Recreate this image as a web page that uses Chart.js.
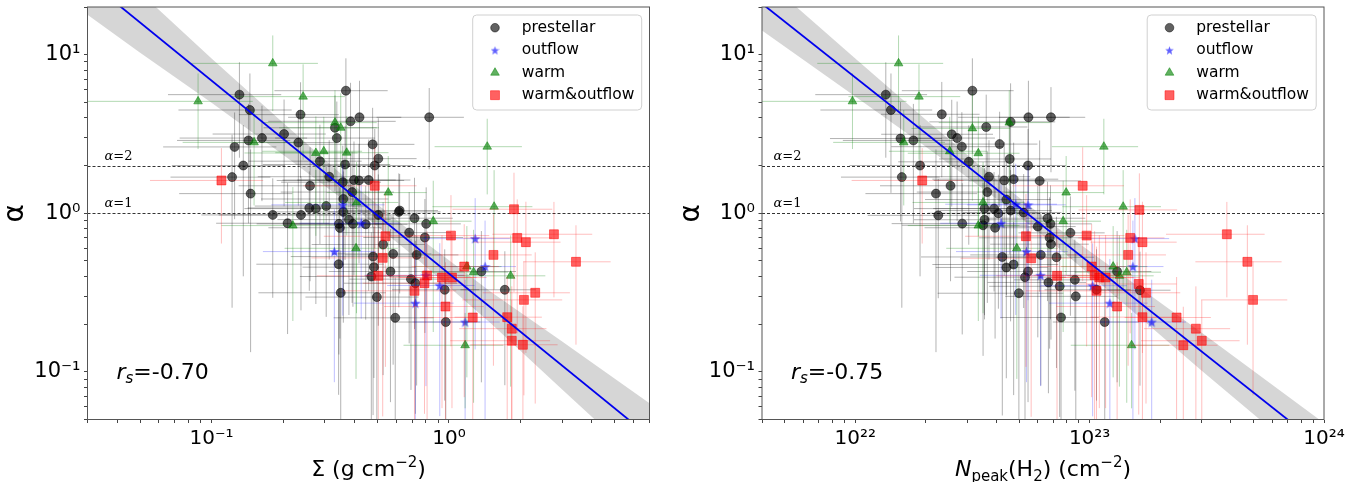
<!DOCTYPE html>
<html>
<head>
<meta charset="utf-8">
<script src="https://cdn.jsdelivr.net/npm/chart.js@4.4.1/dist/chart.umd.min.js"></script>
<style>
  html, body { margin: 0; padding: 0; background: #fff; }
  #wrap { position: relative; width: 1359px; height: 482px; }
  canvas { position: absolute; top: 0; }
</style>
</head>
<body>
<div id="wrap">
  <canvas id="left" width="680" height="482" style="left:0px"></canvas>
  <canvas id="right" width="679" height="482" style="left:680px"></canvas>
</div>
<script>
// ---- data ----
const categories = ['prestellar', 'outflow', 'warm', 'warm&outflow'];
const yRange = [0.05, 20];
const yMajor = [0.1, 1, 10];
const yLabels = ['10⁻¹', '10⁰', '10¹'];
const refLevels = [2, 1];

// left panel: [Sigma (g cm^-2), alpha, rel. x error, rel. y error]
const prestellarL = [
  [0.131,5.6,0.5,0.6],[0.145,4.48,0.5,0.7],[0.368,5.93,0.5,0.6],[0.237,4.19,0.45,0.6],
  [0.42,4.03,0.5,0.7],[0.385,3.8,0.55,0.75],[0.826,4.03,0.4,0.53],[0.331,3.46,0.5,0.6],
  [0.337,2.98,0.45,0.7],[0.202,3.16,0.5,0.65],[0.163,2.98,0.55,0.6],[0.143,2.88,0.5,0.7],
  [0.125,2.62,0.5,0.65],[0.232,2.79,0.45,0.6],[0.477,2.72,0.5,0.7],[0.504,2.21,0.45,0.8],
  [0.286,2.13,0.5,0.7],[0.365,2.03,0.55,0.75],[0.487,2.0,0.45,0.7],[0.136,2.0,0.5,0.8],
  [0.313,1.70,0.5,0.7],[0.122,1.69,0.45,0.85],[0.398,1.62,0.5,0.75],[0.418,1.61,0.55,0.7],
  [0.459,1.62,0.5,0.8],[0.357,1.57,0.45,0.7],[0.26,1.49,0.5,0.75],[0.391,1.36,0.5,0.8],
  [0.146,1.33,0.5,0.9],[0.359,1.23,0.55,0.75],[0.304,1.11,0.5,0.8],[0.258,1.08,0.45,0.7],
  [0.275,1.07,0.5,0.75],[0.359,1.02,0.5,0.8],[0.181,0.976,0.5,0.7],[0.238,0.976,0.55,0.75],
  [0.504,0.976,0.45,0.8],[0.615,1.02,0.5,0.75],[0.62,1.04,0.45,0.7],[0.209,0.865,0.5,0.8],
  [0.379,0.912,0.5,0.75],[0.344,0.857,0.55,0.85],[0.347,0.81,0.5,0.8],[0.394,0.857,0.45,0.7],
  [0.446,0.852,0.5,0.75],[0.716,0.93,0.45,0.8],[0.802,0.857,0.4,0.7],[0.68,0.755,0.5,0.8],
  [0.792,0.703,0.45,0.75],[0.528,0.635,0.5,0.85],[0.582,0.554,0.45,0.8],[0.731,0.546,0.5,0.85],
  [0.479,0.533,0.55,0.9],[0.483,0.457,0.5,0.8],[0.567,0.429,0.45,0.85],[0.471,0.399,0.5,0.9],
  [0.343,0.477,0.55,0.85],[0.692,0.384,0.45,0.8],[0.722,0.362,0.5,0.85],[0.96,0.329,0.4,0.8],
  [1.72,0.329,0.35,0.75],[1.37,0.429,0.4,0.8],[0.497,0.296,0.5,0.9],[0.35,0.315,0.55,0.85],
  [0.594,0.219,0.45,0.8],[0.97,0.206,0.4,0.85]
];
const outflowL = [
  [0.357,1.13,0.5,0.8],[0.427,0.865,0.45,0.75],[0.329,0.573,0.5,0.85],[1.29,0.692,0.4,0.8],
  [1.42,0.461,0.35,0.95],[0.80,0.406,0.45,0.8],[0.915,0.35,0.4,0.85],[0.722,0.271,0.45,0.9],
  [1.17,0.206,0.4,0.85]
];
const warmL = [
  [0.181,8.82,0.55,0.5],[0.0877,5.08,0.7,0.5],[0.243,5.44,0.5,0.6],[0.331,3.73,0.5,0.6],
  [0.35,3.46,0.45,0.65],[0.151,2.8,0.5,0.6],[0.275,2.4,0.5,0.7],[0.297,2.46,0.45,0.65],
  [0.371,2.41,0.5,0.7],[1.45,2.63,0.4,0.5],[0.555,1.35,0.45,0.7],[0.408,1.17,0.5,0.8],
  [1.55,1.10,0.45,0.7],[0.22,0.836,0.5,0.75],[0.859,0.891,0.45,0.8],[0.406,0.601,0.5,0.85],
  [1.19,0.461,0.4,0.8],[1.27,0.425,0.4,0.85],[1.82,0.403,0.4,0.8],[1.17,0.147,0.45,0.6]
];
const warmOutflowL = [
  [0.11,1.61,0.5,0.6],[0.487,1.49,0.5,0.75],[1.88,1.06,0.45,0.7],[1.02,0.723,0.45,0.8],
  [0.54,0.716,0.45,0.85],[1.94,0.699,0.4,0.75],[2.11,0.657,0.4,0.8],[2.77,0.737,0.45,0.6],
  [1.54,0.546,0.45,0.8],[3.43,0.494,0.4,0.7],[0.526,0.523,0.5,0.9],[1.16,0.461,0.4,0.85],
  [0.504,0.403,0.45,0.95],[0.809,0.405,0.45,0.9],[0.935,0.393,0.4,0.85],[1.03,0.393,0.4,0.85],
  [0.716,0.324,0.5,0.9],[0.789,0.362,0.45,0.85],[2.31,0.315,0.4,0.8],[2.07,0.284,0.45,0.75],
  [0.967,0.258,0.45,0.9],[1.26,0.22,0.4,0.85],[1.76,0.221,0.4,0.8],[1.84,0.187,0.4,0.85],
  [1.84,0.157,0.45,0.8],[2.05,0.148,0.4,0.75]
];
const fitSigma = [0.03, 7];
const fitAlphaL = [29.7, 0.039];
const bandSigma = [0.03, 0.05, 0.1, 0.2, 0.4, 0.7, 1.5, 3, 7];
const bandLoL = [17.9, 10.3, 4.97, 2.34, 1.08, 0.547, 0.202, 0.0774, 0.024];
const bandHiL = [49.2, 24.7, 9.46, 3.72, 1.49, 0.755, 0.320, 0.155, 0.0632];

// right panel: [N_peak(H2) (cm^-2), alpha, rel. x error, rel. y error]
const prestellarR = [
  [1.35e22,5.6,0.5,0.6],[1.42e22,4.48,0.5,0.7],[3.16e22,5.93,0.5,0.6],[2.34e22,4.21,0.45,0.6],
  [5.48e22,4.03,0.5,0.7],[6.84e22,4.03,0.4,0.55],[3.62e22,3.5,0.5,0.6],[4.6e22,3.77,0.55,0.75],
  [1.56e22,2.96,0.5,0.7],[1.77e22,2.88,0.5,0.7],[2.58e22,3.15,0.5,0.65],[2.72e22,2.98,0.45,0.7],
  [2.85e22,2.63,0.5,0.65],[4.13e22,2.73,0.45,0.6],[4.56e22,2.2,0.5,0.75],[1.89e22,2.0,0.5,0.8],
  [3.05e22,2.11,0.5,0.7],[5.46e22,2.0,0.45,0.7],[1.58e22,1.69,0.45,0.85],[3.72e22,1.70,0.5,0.7],
  [4.32e22,1.61,0.5,0.75],[4.74e22,1.64,0.55,0.7],[6.12e22,1.6,0.5,0.8],[2.55e22,1.49,0.5,0.75],
  [2.21e22,1.33,0.5,0.9],[3.66e22,1.36,0.5,0.8],[4.41e22,1.22,0.55,0.75],[2.26e22,0.97,0.5,0.7],
  [3.56e22,1.07,0.5,0.8],[3.91e22,1.07,0.45,0.7],[4.08e22,1.0,0.5,0.75],[4.6e22,1.04,0.5,0.8],
  [5.23e22,1.01,0.45,0.75],[2.86e22,0.86,0.5,0.8],[3.56e22,0.91,0.5,0.75],[3.51e22,0.84,0.55,0.85],
  [3.95e22,0.81,0.5,0.8],[6.61e22,0.93,0.45,0.7],[6.81e22,0.857,0.5,0.75],[6.01e22,0.824,0.45,0.8],
  [8.28e22,0.752,0.4,0.7],[6.75e22,0.70,0.5,0.8],[6.84e22,0.638,0.45,0.75],[4.24e22,0.53,0.55,0.9],
  [4.41e22,0.455,0.5,0.8],[4.74e22,0.475,0.55,0.85],[6.19e22,0.546,0.5,0.85],[7.22e22,0.528,0.45,0.8],
  [5.46e22,0.429,0.45,0.85],[5.3e22,0.395,0.5,0.9],[6.67e22,0.366,0.45,0.8],[7.45e22,0.346,0.5,0.85],
  [8.65e22,0.38,0.45,0.8],[4.99e22,0.313,0.55,0.85],[8.73e22,0.299,0.5,0.9],[1.07e23,0.329,0.4,0.8],
  [1.31e23,0.429,0.4,0.8],[1.64e23,0.327,0.35,0.75],[7.55e22,0.22,0.45,0.8],[1.16e23,0.206,0.4,0.85]
];
const outflowR = [
  [4.84e22,1.14,0.5,0.8],[5.46e22,1.13,0.45,0.75],[4.19e22,0.865,0.45,0.75],[5.38e22,0.573,0.5,0.85],
  [6.18e22,0.406,0.45,0.8],[1.03e23,0.349,0.4,0.85],[1.22e23,0.271,0.45,0.9],[1.56e23,0.692,0.4,0.8],
  [1.53e23,0.461,0.35,0.95],[1.84e23,0.206,0.4,0.85]
];
const warmR = [
  [1.53e22,8.82,0.55,0.5],[9.73e21,5.08,0.7,0.5],[1.87e22,5.44,0.5,0.6],[3.16e22,3.43,0.45,0.65],
  [4.54e22,3.73,0.5,0.6],[1.61e22,2.8,0.5,0.6],[2.53e22,2.46,0.45,0.65],[3.35e22,2.39,0.5,0.7],
  [1.15e23,2.63,0.4,0.5],[7.94e22,1.35,0.45,0.7],[3.51e22,1.17,0.5,0.8],[1.39e23,1.10,0.45,0.7],
  [3.35e22,0.836,0.5,0.75],[7.71e22,0.891,0.45,0.8],[4.89e22,0.601,0.5,0.85],[1.26e23,0.461,0.4,0.8],
  [1.44e23,0.425,0.4,0.85],[1.34e23,0.403,0.4,0.8],[1.51e23,0.147,0.45,0.6]
];
const warmOutflowR = [
  [1.93e22,1.61,0.5,0.6],[9.34e22,1.49,0.5,0.75],[1.63e23,1.05,0.45,0.7],[9.71e22,0.723,0.45,0.8],
  [5.35e22,0.716,0.45,0.85],[1.49e23,0.699,0.4,0.75],[1.68e23,0.657,0.4,0.8],[3.85e23,0.737,0.45,0.6],
  [1.46e23,0.546,0.45,0.8],[4.71e23,0.494,0.4,0.7],[5.63e22,0.52,0.5,0.9],[1.02e23,0.461,0.4,0.85],
  [7.26e22,0.403,0.45,0.95],[1.05e23,0.406,0.45,0.9],[1.1e23,0.393,0.4,0.85],[1.17e23,0.393,0.4,0.85],
  [1.07e23,0.324,0.5,0.9],[1.62e23,0.358,0.45,0.85],[1.74e23,0.315,0.4,0.8],[4.98e23,0.284,0.4,0.75],
  [1.31e23,0.258,0.45,0.9],[1.68e23,0.221,0.4,0.85],[2.35e23,0.22,0.4,0.8],[2.84e23,0.187,0.4,0.85],
  [3.01e23,0.157,0.45,0.8],[2.51e23,0.147,0.4,0.75]
];
const fitN = [4e21, 1e24];
const fitAlphaR = [21.0, 0.0329];
const bandN = [4e21, 1e22, 2e22, 4e22, 7e22, 1.5e23, 3e23, 1e24];
const bandLoR = [14.2, 5.46, 2.63, 1.236, 0.643, 0.246, 0.102, 0.0228];
const bandHiR = [31.0, 9.48, 3.89, 1.63, 0.847, 0.372, 0.177, 0.0475];

// ---- styling ----
const markColors = ['rgba(0,0,0,0.62)', 'rgba(0,0,255,0.62)', 'rgba(0,128,0,0.62)', 'rgba(255,0,0,0.62)'];
const errColors = ['rgba(0,0,0,0.3)', 'rgba(0,0,255,0.25)', 'rgba(0,128,0,0.3)', 'rgba(255,0,0,0.25)'];

function makeStar(size, color) {
  const c = document.createElement('canvas');
  c.width = c.height = size;
  const g = c.getContext('2d');
  const R = size / 2, r = R * 0.42;
  g.beginPath();
  for (let i = 0; i < 10; i++) {
    const a = -Math.PI / 2 + i * Math.PI / 5;
    const rr = i % 2 ? r : R;
    g.lineTo(R + rr * Math.cos(a), R + 0.5 + rr * Math.sin(a));
  }
  g.closePath();
  g.fillStyle = color;
  g.fill();
  return c;
}
const starImg = makeStar(11, markColors[1]);
const starSmall = makeStar(9, markColors[1]);
const pointStyles = ['circle', starImg, 'triangle', 'rect'];
const legendStyles = ['circle', starSmall, 'triangle', 'rect'];
const pointRadii = [4.5, 5, 5, 6.3];
const legendRadii = [4.3, 4.5, 5, 6.3];

function zip(xs, ys) { return xs.map((x, i) => ({ x: x, y: ys[i] })); }

function logTicks(min, max) {
  const out = [];
  for (let e = Math.floor(Math.log10(min)); e <= Math.ceil(Math.log10(max)); e++) {
    for (let k = 1; k < 10; k++) {
      const v = k * Math.pow(10, e);
      if (v >= min * 0.999 && v <= max * 1.001) out.push(v);
    }
  }
  return out;
}

function labelFor(v, majors, labels) {
  for (let i = 0; i < majors.length; i++) {
    if (Math.abs(v / majors[i] - 1) < 1e-6) return labels[i];
  }
  return '';
}

function drawRich(ctx, parts, x, y, align) {
  let w = 0;
  parts.forEach(p => { ctx.font = p.font; p.w = ctx.measureText(p.text).width; w += p.w; });
  let cx = align === 'center' ? x - w / 2 : x;
  ctx.textAlign = 'left';
  ctx.textBaseline = 'alphabetic';
  ctx.fillStyle = '#000';
  parts.forEach(p => {
    ctx.font = p.font;
    ctx.fillText(p.text, cx, y + (p.dy || 0));
    cx += p.w;
  });
}

function scatterSet(i, pts) {
  return {
    type: 'scatter',
    label: categories[i],
    data: pts.map(p => ({ x: p[0], y: p[1] })),
    errors: pts.map(p => [p[2], p[3]]),
    errColor: errColors[i],
    pointStyle: pointStyles[i],
    pointRadius: pointRadii[i],
    backgroundColor: markColors[i],
    borderColor: markColors[i],
    borderWidth: 0.8,
    order: 5 - i
  };
}

function decor(p) {
  return {
    id: 'decor',
    beforeDatasetsDraw(chart) {
      const { ctx, chartArea: a, scales: { y } } = chart;
      ctx.save();
      ctx.strokeStyle = '#000';
      ctx.lineWidth = 0.8;
      ctx.setLineDash([3, 2]);
      refLevels.forEach(lv => {
        const py = Math.round(y.getPixelForValue(lv)) + 0.5;
        ctx.beginPath();
        ctx.moveTo(a.left, py);
        ctx.lineTo(a.right, py);
        ctx.stroke();
      });
      ctx.restore();
      ctx.save();
      refLevels.forEach(lv => {
        const py = y.getPixelForValue(lv);
        drawRich(ctx, [
          { text: 'α', font: 'italic 13px "DejaVu Serif"' },
          { text: '=' + lv, font: '13px "DejaVu Serif"' }
        ], a.left + p.refDx, py - 6, 'left');
      });
      ctx.restore();
    },
    beforeDatasetDraw(chart, args) {
      const ds = chart.data.datasets[args.index];
      if (!ds.errors) return;
      const { ctx, chartArea: a, scales: { x, y } } = chart;
      ctx.save();
      ctx.beginPath();
      ctx.rect(a.left, a.top, a.right - a.left, a.bottom - a.top);
      ctx.clip();
      ctx.strokeStyle = ds.errColor;
      ctx.lineWidth = 1;
      ds.data.forEach((pt, i) => {
        const [xf, yf] = ds.errors[i];
        const px = x.getPixelForValue(pt.x), py = y.getPixelForValue(pt.y);
        ctx.beginPath();
        ctx.moveTo(x.getPixelForValue(pt.x * (1 - xf)), py);
        ctx.lineTo(x.getPixelForValue(pt.x * (1 + xf)), py);
        ctx.stroke();
        ctx.beginPath();
        ctx.moveTo(px, y.getPixelForValue(pt.y * (1 - yf)));
        ctx.lineTo(px, y.getPixelForValue(pt.y * (1 + yf)));
        ctx.stroke();
      });
      ctx.restore();
    },
    afterDatasetsDraw(chart) {
      const { ctx, chartArea: a } = chart;
      ctx.save();
      // frame
      ctx.strokeStyle = '#555';
      ctx.lineWidth = 1;
      ctx.strokeRect(a.left, a.top, a.right - a.left, a.bottom - a.top);

      // legend
      const bw = 169, bh = 95;
      const bx = a.right - 7.8 - bw, by = a.top + 8;
      ctx.beginPath();
      ctx.roundRect(bx, by, bw, bh, 4);
      ctx.fillStyle = 'rgba(255,255,255,0.8)';
      ctx.fill();
      ctx.strokeStyle = '#d0d0d0';
      ctx.stroke();
      categories.forEach((name, i) => {
        const ly = by + 12.7 + i * 22.5;
        ctx.fillStyle = markColors[i];
        ctx.strokeStyle = markColors[i];
        ctx.lineWidth = 0.8;
        Chart.helpers.drawPoint(ctx, { pointStyle: legendStyles[i], radius: legendRadii[i], rotation: 0, borderWidth: 0.8 }, bx + 22.3, ly);
        ctx.fillStyle = '#000';
        ctx.font = '15.5px "DejaVu Sans"';
        ctx.textAlign = 'left';
        ctx.textBaseline = 'middle';
        ctx.fillText(name, bx + 49, ly);
      });

      // spearman coefficient
      drawRich(ctx, [
        { text: 'r', font: 'italic 22px "DejaVu Sans"' },
        { text: 's', font: 'italic 15px "DejaVu Sans"', dy: 3.5 },
        { text: '=' + p.rs, font: '22px "DejaVu Sans"' }
      ], a.left + 29, a.bottom - 40.5, 'left');

      // x axis title
      drawRich(ctx, p.xTitle, (a.left + a.right) / 2, chart.height - 6, 'center');
      ctx.restore();
    }
  };
}

function makePanel(id, p) {
  return new Chart(document.getElementById(id), {
    type: 'scatter',
    data: {
      datasets: [
        { type: 'line', data: zip(p.bandX, p.bandHi), fill: '+1', backgroundColor: 'rgba(170,170,170,0.48)',
          borderColor: 'rgba(0,0,0,0)', borderWidth: 0, pointRadius: 0, order: 11 },
        { type: 'line', data: zip(p.bandX, p.bandLo), fill: false,
          borderColor: 'rgba(0,0,0,0)', borderWidth: 0, pointRadius: 0, order: 10 },
        scatterSet(0, p.sets[0]),
        scatterSet(1, p.sets[1]),
        scatterSet(2, p.sets[2]),
        scatterSet(3, p.sets[3]),
        { type: 'line', data: zip(p.fitX, p.fitY), fill: false, borderColor: '#0000ee',
          borderWidth: 1.8, pointRadius: 0, order: 0 }
      ]
    },
    options: {
      responsive: false,
      animation: false,
      events: [],
      devicePixelRatio: 1,
      layout: { autoPadding: false, padding: p.padding },
      plugins: { legend: { display: false }, tooltip: { enabled: false } },
      scales: {
        x: {
          type: 'logarithmic', position: 'bottom', min: p.xMin, max: p.xMax,
          afterBuildTicks: s => { s.ticks = logTicks(p.xMin, p.xMax).map(v => ({ value: v })); },
          afterFit: s => { s.height = 62.5; s.paddingLeft = 0; s.paddingRight = 0; },
          ticks: { autoSkip: false, maxRotation: 0, minRotation: 0, padding: 4, color: '#000',
                   font: { family: 'DejaVu Sans', size: 20 },
                   callback: v => labelFor(v, p.xMajor, p.xLabels) },
          grid: { drawOnChartArea: false, tickLength: 3.5, tickColor: '#444' },
          border: { display: false }
        },
        y: {
          type: 'logarithmic', position: 'left', min: yRange[0], max: yRange[1],
          afterBuildTicks: s => { s.ticks = logTicks(yRange[0], yRange[1]).map(v => ({ value: v })); },
          afterFit: s => { s.width = p.yAxisWidth; s.paddingTop = 0; s.paddingBottom = 0; },
          ticks: { autoSkip: false, padding: 3.5, color: '#000',
                   font: { family: 'DejaVu Sans', size: 21 },
                   callback: v => labelFor(v, yMajor, yLabels) },
          grid: { drawOnChartArea: false, tickLength: 3.5, tickColor: '#444' },
          border: { display: false },
          title: { display: true, text: 'α', color: '#000', padding: { top: p.yTitlePad, bottom: 0 },
                   font: { family: 'DejaVu Sans', size: 28, lineHeight: 1 } }
        }
      }
    },
    plugins: [decor(p)]
  });
}

makePanel('left', {
  sets: [prestellarL, outflowL, warmL, warmOutflowL],
  xMin: 0.03, xMax: 7, xMajor: [0.1, 1], xLabels: ['10⁻¹', '10⁰'],
  fitX: fitSigma, fitY: fitAlphaL, bandX: bandSigma, bandLo: bandLoL, bandHi: bandHiL,
  padding: { left: 0, right: 30.5, top: 7, bottom: 0 }, yAxisWidth: 87.5, yTitlePad: 1.5,
  refDx: 17, rs: '-0.70',
  xTitle: [
    { text: 'Σ (g cm', font: '22px "DejaVu Sans"' },
    { text: '−2', font: '15px "DejaVu Sans"', dy: -9.5 },
    { text: ')', font: '22px "DejaVu Sans"' }
  ]
});

makePanel('right', {
  sets: [prestellarR, outflowR, warmR, warmOutflowR],
  xMin: 4e21, xMax: 1e24, xMajor: [1e22, 1e23, 1e24], xLabels: ['10²²', '10²³', '10²⁴'],
  fitX: fitN, fitY: fitAlphaR, bandX: bandN, bandLo: bandLoR, bandHi: bandHiR,
  padding: { left: 0, right: 35, top: 7, bottom: 0 }, yAxisWidth: 82, yTitlePad: -2,
  refDx: 11.5, rs: '-0.75',
  xTitle: [
    { text: 'N', font: 'italic 22px "DejaVu Sans"' },
    { text: 'peak', font: '15px "DejaVu Sans"', dy: 4.5 },
    { text: '(H', font: '22px "DejaVu Sans"' },
    { text: '2', font: '15px "DejaVu Sans"', dy: 4.5 },
    { text: ') (cm', font: '22px "DejaVu Sans"' },
    { text: '−2', font: '15px "DejaVu Sans"', dy: -9.5 },
    { text: ')', font: '22px "DejaVu Sans"' }
  ]
});
</script>
</body>
</html>
